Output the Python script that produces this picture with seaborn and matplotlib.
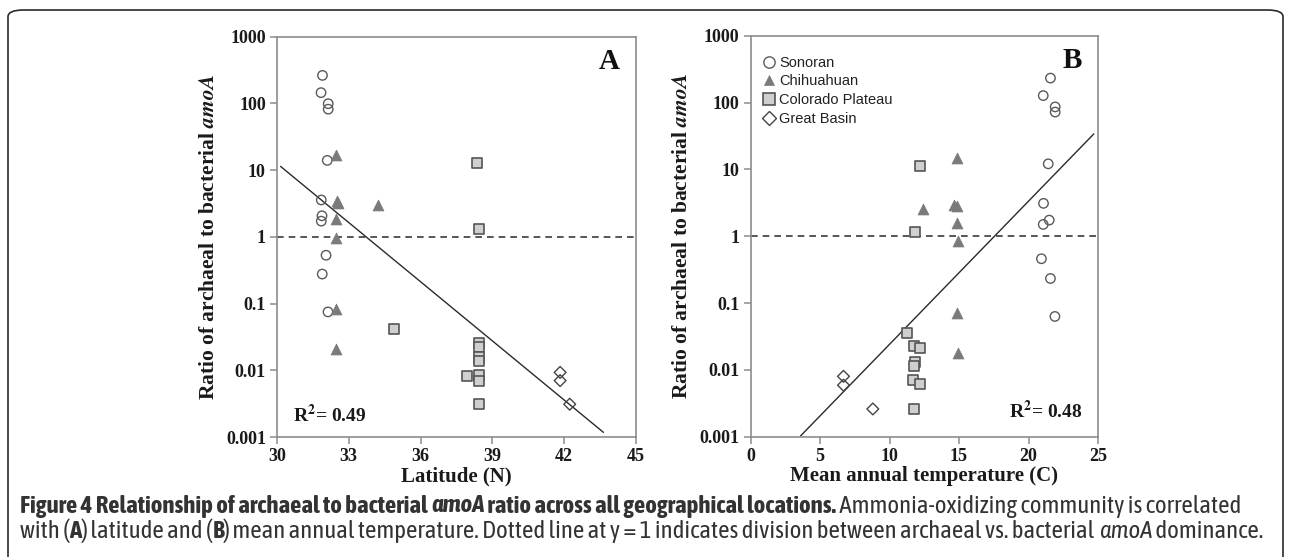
import numpy as np
import pandas as pd
import matplotlib
matplotlib.use("Agg")
import matplotlib.pyplot as plt
import seaborn as sns
from matplotlib.lines import Line2D
from matplotlib.patches import FancyBboxPatch
from matplotlib import font_manager
from collections import defaultdict

# ---------------- data ----------------
lat_sonoran = [31.90, 31.84, 32.14, 32.14, 32.10, 31.85, 31.88, 31.85, 32.05, 31.89, 32.13]
ratio_lat_sonoran = [263, 145, 99, 82, 14, 3.57, 2.07, 1.72, 0.53, 0.277, 0.075]
lat_chihuahuan = [32.48, 32.50, 32.55, 34.24, 32.46, 32.45, 32.48, 32.45]
ratio_lat_chihuahuan = [16.6, 3.5, 3.2, 2.96, 1.85, 0.96, 0.082, 0.021]
lat_colorado = [38.37, 38.46, 34.89, 37.95, 38.45, 38.42, 38.46, 38.46, 38.46, 38.42, 38.45]
ratio_lat_colorado = [12.9, 1.31, 0.042, 0.0082, 0.026, 0.022, 0.0156, 0.0136, 0.0084, 0.0070, 0.0031]
lat_greatbasin = [41.83, 41.83, 42.23]
ratio_lat_greatbasin = [0.0093, 0.0070, 0.0031]

temp_sonoran = [21.58, 21.06, 21.92, 21.92, 21.42, 21.08, 21.49, 21.06, 20.93, 21.58, 21.90]
ratio_temp_sonoran = [232, 127, 86, 72, 12.1, 3.1, 1.74, 1.5, 0.46, 0.233, 0.063]
temp_chihuahuan = [14.87, 12.42, 14.63, 14.87, 14.87, 14.96, 14.85, 14.96]
ratio_temp_chihuahuan = [14.7, 2.57, 2.95, 2.86, 1.6, 0.85, 0.070, 0.018]
temp_colorado = [12.18, 11.85, 11.27, 11.73, 12.21, 11.85, 11.73, 11.71, 12.21, 11.73]
ratio_temp_colorado = [11.3, 1.14, 0.036, 0.023, 0.021, 0.0132, 0.0114, 0.0071, 0.0061, 0.0026]
temp_greatbasin = [6.69, 6.69, 8.80]
ratio_temp_greatbasin = [0.0080, 0.0059, 0.0026]

# fitted log10(ratio) = intercept + slope * x, drawn over the observed range
fit_lat_intercept, fit_lat_slope = 9.965, -0.2955
fit_lat_range = [30.15, 43.64]
fit_temp_intercept, fit_temp_slope = -3.76, 0.2142
fit_temp_range = [3.6, 24.7]

r2_lat = "0.49"
r2_temp = "0.48"

region_names = ["Sonoran", "Chihuahuan", "Colorado Plateau", "Great Basin"]
y_ticks = [0.001, 0.01, 0.1, 1, 10, 100, 1000]
y_ticklabels = ["0.001", "0.01", "0.1", "1", "10", "100", "1000"]
lat_ticks = [30, 33, 36, 39, 42, 45]
temp_ticks = [0, 5, 10, 15, 20, 25]

# ---------------- styling ----------------
sns.set_theme(style="white")
plt.rcParams["font.family"] = ["Liberation Serif", "DejaVu Serif"]
plt.rcParams["mathtext.fontset"] = "stix"

SERIF = ["Liberation Serif", "DejaVu Serif"]

# caption font: prefer a narrow / condensed sans that has both regular and bold faces
def _w(f):
    w = f.weight
    if isinstance(w, str):
        w = font_manager.weight_dict.get(w, 400)
    return int(w)

CAP_FONT = ["Liberation Sans", "DejaVu Sans"]
CAP_STRETCH = "normal"
_fams = defaultdict(list)
for f in font_manager.fontManager.ttflist:
    if ("Narrow" in f.name or "Condensed" in f.name) and "Mono" not in f.name and "Serif" not in f.name:
        _fams[f.name].append(f)
_best = None
for nm, fl in _fams.items():
    ws = {_w(f) for f in fl}
    has_bold = any(w >= 600 for w in ws)
    has_reg = any(350 <= w < 550 for w in ws)
    if has_bold and has_reg:
        score = 2 if "Liberation" in nm else 1
        if _best is None or score > _best[0]:
            _best = (score, nm, fl[0].stretch)
if _best is not None:
    CAP_FONT = [_best[1], "DejaVu Sans"]
    CAP_STRETCH = _best[2]

styles = {
    "Sonoran": dict(marker="o", s=46, facecolor="none", edgecolor="#5a5a5a", linewidth=1.0),
    "Chihuahuan": dict(marker="^", s=62, facecolor="#7a7a7a", edgecolor="#7a7a7a", linewidth=0.5),
    "Colorado Plateau": dict(marker="s", s=44, facecolor="#cfcfcf", edgecolor="#555555", linewidth=1.2),
    "Great Basin": dict(marker="D", s=36, facecolor="none", edgecolor="#444444", linewidth=1.0),
}

fig = plt.figure(figsize=(12.9, 5.57), dpi=100)
W, H = 1290, 557

def px_axes(l, r, t, b):
    return fig.add_axes([l / W, 1 - b / H, (r - l) / W, (b - t) / H])

axA = px_axes(277, 636, 36.7, 437)
axB = px_axes(750.5, 1098, 35.7, 436.7)

def make_df(xs, ys):
    frames = []
    for name, x, y in zip(region_names, xs, ys):
        frames.append(pd.DataFrame({"x": x, "y": y, "region": name}))
    return pd.concat(frames, ignore_index=True)

dfA = make_df([lat_sonoran, lat_chihuahuan, lat_colorado, lat_greatbasin],
              [ratio_lat_sonoran, ratio_lat_chihuahuan, ratio_lat_colorado, ratio_lat_greatbasin])
dfB = make_df([temp_sonoran, temp_chihuahuan, temp_colorado, temp_greatbasin],
              [ratio_temp_sonoran, ratio_temp_chihuahuan, ratio_temp_colorado, ratio_temp_greatbasin])

def draw_panel(ax, df, fit_int, fit_slope, fit_range, xlim, xticks, xlabel, letter, r2, r2_pos, r2_ha):
    ax.set_yscale("log")
    for name in region_names:
        sub = df[df["region"] == name]
        sns.scatterplot(data=sub, x="x", y="y", ax=ax, legend=False, zorder=3, **styles[name])
    fx = np.array(fit_range)
    fy = 10 ** (fit_int + fit_slope * fx)
    sns.lineplot(x=fx, y=fy, ax=ax, color="#2a2a2a", linewidth=1.0, zorder=2)
    ax.axhline(1, color="#3a3a3a", linestyle=(0, (4, 3)), linewidth=1.2, zorder=1)
    ax.set_xlim(*xlim)
    ax.set_ylim(0.001, 1000)
    ax.set_xticks(xticks)
    ax.set_xticklabels([str(t) for t in xticks])
    ax.set_yticks(y_ticks)
    ax.set_yticklabels(y_ticklabels)
    ax.yaxis.set_minor_locator(matplotlib.ticker.NullLocator())
    for sp in ax.spines.values():
        sp.set_color("#8c8c8c")
        sp.set_linewidth(1.2)
    ax.tick_params(axis="both", which="major", direction="out", length=5, width=1.1,
                   color="#8c8c8c", pad=3, bottom=True, left=True, top=False, right=False)
    for lab in ax.get_xticklabels() + ax.get_yticklabels():
        lab.set_fontfamily(SERIF)
        lab.set_fontweight("bold")
        lab.set_fontsize(13)
        lab.set_color("#1a1a1a")
    ax.set_xlabel(xlabel, fontsize=15, fontweight="bold", family=SERIF, color="#1a1a1a", labelpad=1)
    ax.set_ylabel(r"Ratio of archaeal to bacterial $\mathbfit{amoA}$", fontsize=15.5,
                  fontweight="bold", family=SERIF, color="#1a1a1a", labelpad=5)
    ax.text(0.955, 0.972, letter, transform=ax.transAxes, ha="right", va="top",
            fontsize=21, fontweight="bold", family=SERIF, color="#111111")
    ax.text(r2_pos[0], r2_pos[1], r"R$^{\mathbf{2}}$= " + r2, transform=ax.transAxes, ha=r2_ha,
            va="center", fontsize=14, fontweight="bold", family=SERIF, color="#1a1a1a")
    ax.set_facecolor("white")

draw_panel(axA, dfA, fit_lat_intercept, fit_lat_slope, fit_lat_range, (30, 45), lat_ticks,
           "Latitude (N)", "A", r2_lat, (0.045, 0.055), "left")
draw_panel(axB, dfB, fit_temp_intercept, fit_temp_slope, fit_temp_range, (0, 25), temp_ticks,
           "Mean annual temperature (C)", "B", r2_temp, (0.955, 0.063), "right")

handles = []
for name in region_names:
    st = styles[name]
    handles.append(Line2D([], [], linestyle="none", marker=st["marker"],
                          markersize=np.sqrt(st["s"]) * (1.2 if name != "Chihuahuan" else 0.95),
                          markerfacecolor=st["facecolor"], markeredgecolor=st["edgecolor"],
                          markeredgewidth=st["linewidth"]))
axB.legend(handles, region_names, loc="upper left", bbox_to_anchor=(0.01, 0.972), frameon=False,
           prop={"family": ["Liberation Sans", "DejaVu Sans"], "size": 10.5},
           handlelength=0.8, handletextpad=0.35, labelspacing=0.33, borderaxespad=0.2,
           labelcolor="#222222")

# border
fig.patches.append(FancyBboxPatch((8 / W, -0.05), (1283 - 8) / W, 1.05 - 10 / H,
                                  boxstyle="round,pad=0,rounding_size=0.012",
                                  transform=fig.transFigure, facecolor="none",
                                  edgecolor="#2a2a2a", linewidth=1.2, zorder=0))

# caption with mixed formatting
renderer = fig.canvas.get_renderer()

def text_width(s, size, weight, style):
    kw = dict(fontsize=size, fontweight=weight, fontstyle=style, family=CAP_FONT, fontstretch=CAP_STRETCH)
    t1 = fig.text(0, 0, "|" + s + "|", **kw)
    t2 = fig.text(0, 0, "||", **kw)
    w = t1.get_window_extent(renderer).width - t2.get_window_extent(renderer).width
    t1.remove(); t2.remove()
    return w

def rich_line(pieces, x0, y, size):
    x = x0
    for s, weight, style in pieces:
        fig.text(x / W, 1 - y / H, s, fontsize=size, fontweight=weight, fontstyle=style,
                 family=CAP_FONT, fontstretch=CAP_STRETCH, color="#333333", va="center", ha="left")
        x += text_width(s, size, weight, style)
    return x

line1 = [("Figure 4 Relationship of archaeal to bacterial ", "bold", "normal"),
         ("amoA", "bold", "italic"),
         (" ratio across all geographical locations.", "bold", "normal"),
         (" Ammonia-oxidizing community is correlated", "normal", "normal")]
line2 = [("with (", "normal", "normal"), ("A", "bold", "normal"),
         (") latitude and (", "normal", "normal"), ("B", "bold", "normal"),
         (") mean annual temperature. Dotted line at y = 1 indicates division between archaeal vs. bacterial ",
          "normal", "normal"),
         ("amoA", "normal", "italic"), (" dominance.", "normal", "normal")]

base = 12
w1 = sum(text_width(s, base, wt, st) for s, wt, st in line1)
w2 = sum(text_width(s, base, wt, st) for s, wt, st in line2)
cap_size = min(base * (1273 - 20) / w1, base * (1262 - 20) / w2, 19)
rich_line(line1, 20, 506, cap_size)
rich_line(line2, 20, 531, cap_size)

fig.savefig("out.png", dpi=100, facecolor="white")
